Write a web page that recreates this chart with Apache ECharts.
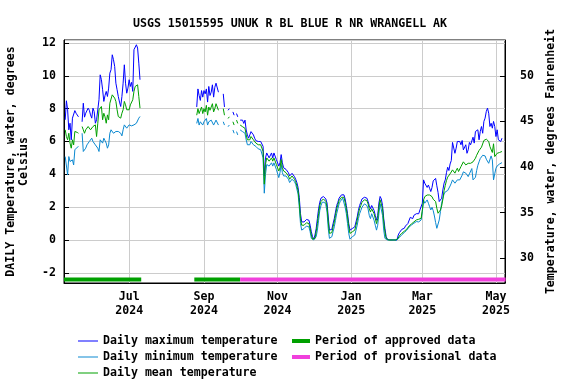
<!DOCTYPE html>
<html><head><meta charset="utf-8">
<script src="https://cdn.jsdelivr.net/npm/echarts@6/dist/echarts.min.js"></script>
<style>html,body{margin:0;padding:0;background:#fff}#c{width:576px;height:384px}</style>
</head><body><div id="c"></div>
<script>
const titleText = 'USGS 15015595 UNUK R BL BLUE R NR WRANGELL AK';
const leftAxisName = 'DAILY Temperature, water, degrees\nCelsius';
const rightAxisName = 'Temperature, water, degrees Fahrenheit';
const monthNames = ['Jan','Feb','Mar','Apr','May','Jun','Jul','Aug','Sep','Oct','Nov','Dec'];
const xTickDates = ['2024-07-01','2024-09-01','2024-11-01','2025-01-01','2025-03-01','2025-05-01'];
const xRange = ['2024-05-08T00:00:00Z','2025-05-08T12:00:00Z'];
const celsiusRange = [-2.62, 12.18];

// Daily values, one per day from the start date (null = no data)
const summerStart = '2024-05-09';
const maxSummer = [7.32,8.48,7.93,6.71,7.11,6.1,7.42,7.32,7.88,7.72,7.6,7.5,null,null,
  7.2,8.33,7.48,7.72,7.82,8.03,7.9,7.62,7.42,8.03,7.82,7.11,7.32,7.2,8.54,10.06,9.76,9.15,8.44,8.8,
  9.05,8.74,9.25,10.16,10.37,11.28,10.98,10.57,9.55,9.15,8.74,8.4,8.13,8.74,9.55,10.67,9.55,8.94,9.25,9.76,
  9.35,9.6,9.05,11.59,11.48,11.89,11.69,10.77,9.76];
const minSummer = [5.08,5.18,3.96,5.08,4.78,4.67,4.88,4.57,5.49,5.59,5.65,5.69,null,null,
  6.5,5.39,5.49,5.59,5.79,5.9,6.0,6.1,6.2,6.0,6.1,5.79,5.9,5.59,5.39,6.1,6.0,5.9,6.2,6.05,
  5.9,5.59,5.79,6.5,6.71,6.71,6.5,6.61,6.61,6.61,6.61,6.55,6.5,6.34,6.71,7.01,7.01,6.81,6.71,7.01,
  7.01,6.95,6.91,7.01,7.01,7.11,7.22,7.42,7.52];
const meanSummer = [6.71,6.3,6.1,6.5,5.9,5.59,6.1,5.79,6.61,6.61,6.55,6.5,null,null,
  6.91,6.71,6.5,6.71,6.81,6.91,6.8,6.71,6.81,6.91,6.81,7.01,6.3,7.11,7.93,7.93,8.13,7.32,7.72,7.5,
  7.11,7.62,7.32,8.33,8.44,8.84,8.94,8.64,8.44,7.93,7.52,7.45,7.42,7.72,7.93,8.44,8.23,7.93,8.03,7.93,
  8.23,8.3,8.54,9.05,9.35,9.45,9.45,8.74,8.03];

const fallStart = '2024-08-26';
const maxFall = [8.1,9.2,8.8,8.5,9.1,8.7,9.1,8.9,9.2,8.4,9.35,8.8,9.0,9.45,8.7,9.3,9.55,9.6,9.0,
  null,null,null,8.9,8.1,null,null,7.9,8.0,null,null,7.8,7.6,null,7.7,7.5,null,
  7.3,7.2,7.3,7.1,7.3, 6.7,6.4,6.2,6.4,6.6,6.7,6.4,6.2,6.05,6.0, 6.0,5.95,6.0,5.9,5.7,3.9,5.0,5.3,5.3,5.0,
  5.1,5.3,5.0,5.3,5.4,4.9,5.0,4.5,4.7,5.2, 4.7,4.4,4.4,4.3,4.2,4.1,3.9,3.95,4.06,4.0, 3.86,3.7,3.5,3.2,2.6,1.6,1.1,1.0,1.1,
  1.2,1.25,1.3,1.2,0.9,0.5,0.2,0.05,0.3,0.7, 1.3,1.9,2.3,2.55,2.6,2.65,2.65,2.5,2.25,1.4,
  0.6,0.5,0.65,1.0,1.3,1.7,2.1,2.3,2.55,2.65, 2.75,2.85,2.75,2.5,2.1,1.6,1.0,0.6,0.5,0.7,
  0.6,0.8,1.1,1.4,1.8,2.1,2.3,2.5,2.55,2.6, 2.65,2.55,2.35,2.1,1.9,2.1,2.0,1.8,1.5,1.2,
  1.5,2.25,2.65,2.5,2.1,1.3,0.7,0.2,0.05,
  0,0,0,0,0,0,0,0,
  0.3,0.45,0.57,0.65,0.71,0.71,0.85,0.81,1.0,1.12, 1.38,1.38,1.3,1.5,1.4,1.6,1.5,1.6,1.83,1.87,
  2.24,3.66,3.46,3.42,3.2,3.35,3.15,2.95,3.2,3.6, 3.5,3.75,3.3,2.9,2.34,2.28,2.54,3.05,3.46,3.66,
  4.1,4.43,4.23,4.63,4.84,5.94,6.0,5.28,5.59,6.0, 5.9,6.0,5.8,6.06,5.49,5.59,5.8,5.28,5.49,5.94,
  5.8,5.9,6.26,5.9,6.61,6.5,6.71,6.1,6.61,6.91, 6.5,7.22,7.42,7.83,8.03,7.72,6.91,7.11,6.81,7.22,
  6.91,6.3,6.71,6.1,6.2,6.0,6.2];
const minFall = [7.1,7.4,7.0,7.2,7.3,7.0,7.2,7.1,7.4,7.0,7.2,7.1,7.3,7.4,7.0,7.1,7.3,7.2,7.0,
  null,null,null,7.2,7.0,null,null,6.9,7.0,null,null,6.7,6.5,null,6.6,6.4,null,
  6.7,6.8,6.6,6.7,6.5, 6.1,5.8,5.7,5.8,6.0,6.0,5.8,5.7,5.7,5.6, 5.55,5.6,5.5,5.4,5.0,2.85,4.0,4.6,4.7,4.5,
  4.6,4.7,4.5,4.7,4.8,4.3,4.4,3.8,4.1,4.6, 4.1,3.9,4.0,3.9,3.8,3.7,3.5,3.6,3.7,3.7, 3.55,3.4,3.1,2.8,2.0,1.0,0.6,0.6,0.7,
  0.7,0.85,0.9,0.8,0.5,0.1,0.0,0.0,0.0,0.2, 0.6,1.2,1.8,2.1,2.3,2.35,2.3,2.15,1.7,0.7,
  0.1,0.0,0.2,0.5,0.8,1.2,1.6,1.9,2.2,2.35, 2.45,2.55,2.45,2.0,1.6,1.0,0.4,0.05,0.0,0.2,
  0.1,0.3,0.6,0.9,1.3,1.6,1.8,2.0,2.1,2.2, 2.25,2.1,1.9,1.5,1.3,1.6,1.5,1.2,0.9,0.6,
  0.9,1.6,2.2,2.1,1.5,0.6,0.1,0.0,0.0,
  0,0,0,0,0,0,0,0,
  0.08,0.16,0.24,0.32,0.41,0.45,0.51,0.59,0.69,0.79, 0.85,0.91,0.98,1.02,1.1,1.12,1.06,1.1,1.18,1.22,
  1.73,2.44,2.24,2.34,2.44,2.24,2.03,1.83,1.99,1.79, 1.46,1.06,0.71,0.81,1.22,1.73,2.24,2.54,2.8,2.93,
  2.85,3.01,3.13,3.29,3.46,3.66,3.56,3.46,3.35,3.66, 3.74,3.66,3.74,3.95,4.15,4.27,4.07,4.15,3.86,4.03,
  4.15,4.35,3.66,3.56,3.82,4.23,4.55,4.76,4.96,4.88, 5.16,5.28,5.12,4.92,4.96,4.67,4.76,5.12,4.88,3.66,
  4.03,4.37,4.51,4.59,4.63,4.67,4.71];
const meanFall = [7.6,8.0,7.7,7.6,8.1,7.7,8.0,7.8,8.2,7.6,8.1,7.9,8.0,8.3,7.8,8.0,8.3,8.2,7.9,
  null,null,null,8.0,7.6,null,null,7.4,7.5,null,null,7.2,7.0,null,7.3,7.1,null,
  7.0,7.0,6.9,6.9,6.8, 6.4,6.1,6.0,6.1,6.3,6.3,6.1,6.0,5.9,5.8, 5.8,5.8,5.8,5.7,5.4,3.4,4.6,5.0,5.0,4.8,
  4.9,5.0,4.8,5.0,5.1,4.6,4.7,4.2,4.4,4.9, 4.4,4.2,4.2,4.1,4.0,3.9,3.7,3.8,3.9,3.85, 3.7,3.55,3.3,3.0,2.3,1.3,0.9,0.8,0.9,
  1.0,1.05,1.1,1.0,0.7,0.3,0.05,0.0,0.1,0.5, 1.0,1.6,2.1,2.35,2.45,2.5,2.5,2.35,2.0,1.1,
  0.4,0.3,0.45,0.8,1.1,1.5,1.9,2.15,2.4,2.5, 2.6,2.7,2.6,2.3,1.9,1.4,0.8,0.4,0.3,0.5,
  0.4,0.6,0.9,1.2,1.6,1.9,2.1,2.3,2.4,2.45, 2.5,2.4,2.2,1.9,1.7,1.9,1.8,1.6,1.3,1.0,
  1.3,2.0,2.45,2.35,1.9,1.1,0.5,0.1,0.0,
  0,0,0,0,0,0,0,0,
  0.12,0.26,0.33,0.41,0.47,0.53,0.57,0.65,0.75,0.85, 0.94,0.98,1.06,1.1,1.14,1.22,1.18,1.26,1.3,1.32,
  1.83,2.44,2.64,2.56,2.74,2.64,2.74,2.8,2.64,2.48, 2.54,2.34,1.93,1.63,1.52,1.83,2.07,2.48,3.0,3.33,
  3.62,3.83,3.95,4.03,4.07,4.27,4.19,4.07,4.23,4.37, 4.17,4.27,4.47,4.57,4.76,4.84,4.57,4.47,4.67,4.76,
  4.67,4.57,4.76,4.88,4.98,5.16,5.28,5.45,5.57,5.65, 5.77,6.06,6.14,6.14,6.1,6.0,5.69,5.57,5.33,5.86,
  5.08,5.18,5.28,5.39,5.33,5.28,5.39];

const approvedPeriods = [['2024-05-08','2024-07-11'], ['2024-08-24','2024-10-01']];
const provisionalPeriods = [['2024-10-01','2025-05-09']];

const DAY = 86400000;
const ts = s => Date.parse(s.length <= 10 ? s + 'T00:00:00Z' : s);
function toPairs(start, values) {
  const t0 = ts(start);
  return values.map((v, i) => [t0 + i * DAY, v]);
}
const series = (name, color, start, vals, z) => ({
  name, type: 'line', data: toPairs(start, vals), showSymbol: false, symbol: 'none',
  connectNulls: false, color, lineStyle: { color, width: 1 }, z, animation: false
});
const BAR_LEVEL = -2.4;
const periodSeries = (name, color, p) => ({
  name, type: 'line', data: [[ts(p[0]), BAR_LEVEL], [ts(p[1]), BAR_LEVEL]],
  showSymbol: false, symbol: 'none', color, lineStyle: { color, width: 4, cap: 'butt' }, z: 1, animation: false
});

const C_MAX = '#0000ff', C_MIN = '#0a88d0', C_MEAN = '#00a000', C_APP = '#00a000', C_PROV = '#f040dc';
const font = { fontFamily: 'DejaVu Sans Mono', fontWeight: 'bold', fontSize: 11.6, color: '#000' };
const toF = c => c * 1.8 + 32;

const chart = echarts.init(document.getElementById('c'), null, { renderer: 'canvas' });
chart.setOption({
  animation: false,
  backgroundColor: '#fff',
  title: { text: titleText, left: 285, top: 12, textAlign: 'center', textStyle: { ...font, lineHeight: 14 } },
  grid: { left: 64, right: 71, top: 40, bottom: 101, show: true, borderColor: '#000', borderWidth: 1, containLabel: false, outerBoundsMode: 'none' },
  xAxis: {
    type: 'value', min: ts(xRange[0]), max: ts(xRange[1]),
    axisLine: { show: true, onZero: false, lineStyle: { color: '#000', width: 1 } },
    axisTick: { show: false, customValues: xTickDates.map(ts) },
    splitLine: { show: true, lineStyle: { color: '#cccccc', width: 1 } },
    axisLabel: {
      ...font, lineHeight: 14, margin: 7, customValues: xTickDates.map(ts),
      formatter: v => { const d = new Date(v); return monthNames[d.getUTCMonth()] + '\n' + d.getUTCFullYear(); }
    }
  },
  yAxis: [{
    type: 'value', position: 'left', min: celsiusRange[0], max: celsiusRange[1], minInterval: 2, maxInterval: 2,
    name: leftAxisName, nameLocation: 'middle', nameRotate: 90, nameGap: 34,
    nameTextStyle: { ...font, lineHeight: 13 },
    axisLine: { show: true, onZero: false, lineStyle: { color: '#000' } },
    axisTick: { show: true, inside: true, length: 5, lineStyle: { color: '#000' } },
    splitLine: { show: true, lineStyle: { color: '#cccccc', width: 1 } },
    axisLabel: { ...font, margin: 8, showMinLabel: false, showMaxLabel: false }
  }, {
    type: 'value', position: 'right', min: toF(celsiusRange[0]), max: toF(celsiusRange[1]), minInterval: 5, maxInterval: 5,
    name: rightAxisName, nameLocation: 'middle', nameRotate: 90, nameGap: 37,
    nameTextStyle: { ...font },
    axisLine: { show: true, onZero: false, lineStyle: { color: '#000' } },
    axisTick: { show: true, inside: true, length: 5, lineStyle: { color: '#000' } },
    splitLine: { show: false },
    axisLabel: { ...font, margin: 15, showMinLabel: false, showMaxLabel: false }
  }],
  legend: [{
    orient: 'vertical', left: 78, top: 334, height: 50, padding: 0, itemGap: 2, itemWidth: 20, itemHeight: 1, icon: 'rect',
    textStyle: { ...font, lineHeight: 14 },
    data: ['Daily maximum temperature', 'Daily minimum temperature', 'Daily mean temperature']
  }, {
    orient: 'vertical', left: 292, top: 334, height: 50, padding: 0, itemGap: 2, itemWidth: 18, itemHeight: 4, icon: 'rect',
    textStyle: { ...font, lineHeight: 14 },
    data: ['Period of approved data', 'Period of provisional data']
  }],
  series: [
    ...approvedPeriods.map(p => periodSeries('Period of approved data', C_APP, p)),
    ...provisionalPeriods.map(p => periodSeries('Period of provisional data', C_PROV, p)),
    series('Daily maximum temperature', C_MAX, summerStart, maxSummer, 3),
    series('Daily maximum temperature', C_MAX, fallStart, maxFall, 3),
    series('Daily minimum temperature', C_MIN, summerStart, minSummer, 4),
    series('Daily minimum temperature', C_MIN, fallStart, minFall, 4),
    series('Daily mean temperature', C_MEAN, summerStart, meanSummer, 5),
    series('Daily mean temperature', C_MEAN, fallStart, meanFall, 5)
  ]
});
</script></body></html>
